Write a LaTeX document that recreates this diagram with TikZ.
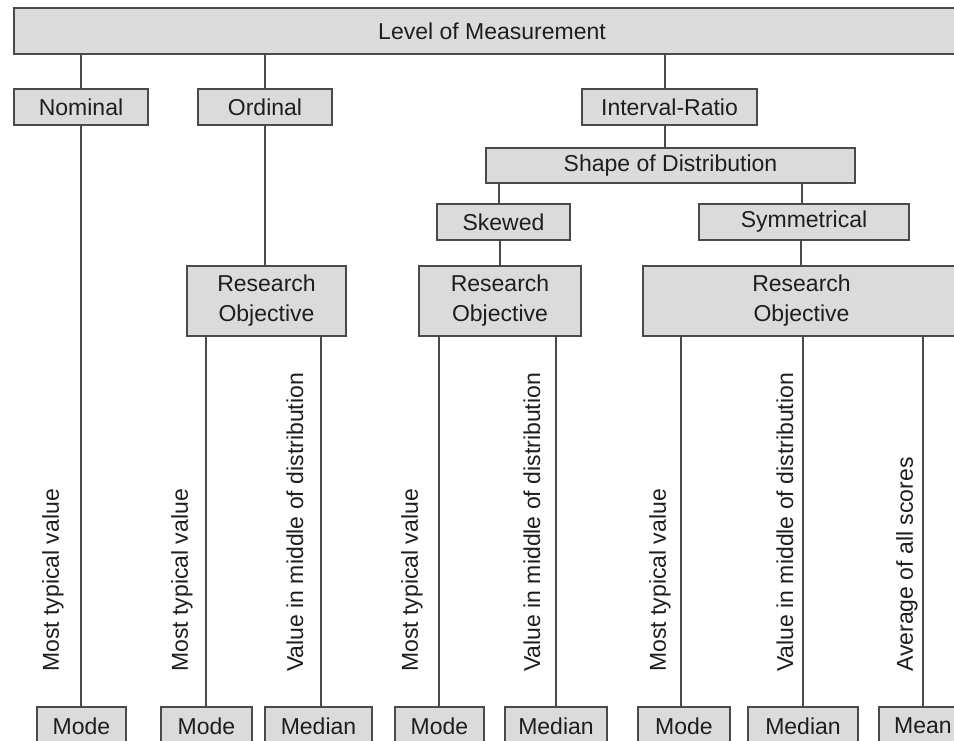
\documentclass[tikz,border=0pt]{standalone}
\usepackage{fontspec}
\setmainfont{Liberation Sans}
\definecolor{boxfill}{HTML}{DCDBDC}
\definecolor{edge}{HTML}{4A4A4A}
\definecolor{ink}{HTML}{1E1E1E}
\begin{document}
\begin{tikzpicture}[x=1pt,y=-1pt,
  box/.style={draw=edge,fill=boxfill,line width=1.6pt,inner sep=0pt,text=ink,
    font=\fontsize{23}{30}\selectfont,align=center},
  conn/.style={draw=edge,line width=1.6pt},
  vlabel/.style={rotate=90,anchor=west,inner sep=0pt,text=ink,
    font=\fontsize{23}{30}\selectfont}]
\useasboundingbox[fill=white] (0,0) rectangle (954,741);
% level 0
\node[box,minimum width=956,minimum height=46] (top) at (492,31) {Level of Measurement};
% level 1
\node[box,minimum width=134,minimum height=36] (nominal) at (81,107) {Nominal};
\node[box,minimum width=134,minimum height=36] (ordinal) at (265,107) {Ordinal};
\node[box,minimum width=175,minimum height=36] (ir) at (669.5,107) {Interval-Ratio};
% shape
\node[box,minimum width=369,minimum height=35] (shape) at (670.5,165.5) {Shape of Distribution};
\node[box,minimum width=133,minimum height=36] (skewed) at (503.5,222) {Skewed};
\node[box,minimum width=210,minimum height=36] (sym) at (804,222) {Symmetrical};
% research objectives
\node[box,minimum width=159,minimum height=70] (ro1) at (266.5,301) {Research\\Objective};
\node[box,minimum width=162,minimum height=70] (ro2) at (500,301) {Research\\Objective};
\node[box,minimum width=317,minimum height=70] (ro3) at (801.5,301) {Research\\Objective};
% bottom
\node[box,minimum width=89,minimum height=38] (m1) at (81.5,726) {Mode};
\node[box,minimum width=91,minimum height=38] (m2) at (206.5,726) {Mode};
\node[box,minimum width=107,minimum height=38] (md1) at (318.5,726) {Median};
\node[box,minimum width=89,minimum height=38] (m3) at (439.5,726) {Mode};
\node[box,minimum width=102,minimum height=38] (md2) at (556,726) {Median};
\node[box,minimum width=92,minimum height=38] (m4) at (684,726) {Mode};
\node[box,minimum width=110,minimum height=38] (md3) at (803,726) {Median};
\node[box,minimum width=88,minimum height=38] (mean) at (923,726) {Mean};
% connectors
\draw[conn] (nominal.north |- top.south) -- (nominal.north);
\draw[conn] (ordinal.north |- top.south) -- (ordinal.north);
\draw[conn] ([xshift=-4.5]ir.north |- top.south) -- ([xshift=-4.5]ir.north);
\draw[conn] ([xshift=-4.5]ir.south) -- ([xshift=-4.5]ir.south |- shape.north);
\draw[conn] ([xshift=-4.5]skewed.north |- shape.south) -- ([xshift=-4.5]skewed.north);
\draw[conn] ([xshift=-2]sym.north |- shape.south) -- ([xshift=-2]sym.north);
\draw[conn] (ordinal.south) -- (ordinal.south |- ro1.north);
\draw[conn] (ro2.north |- skewed.south) -- (ro2.north);
\draw[conn] ([xshift=-0.5]ro3.north |- sym.south) -- ([xshift=-0.5]ro3.north);
\draw[conn] (nominal.south) -- (nominal.south |- m1.north);
\draw[conn] ([xshift=-0.5]m2.north |- ro1.south) -- ([xshift=-0.5]m2.north);
\draw[conn] ([xshift=2.5]md1.north |- ro1.south) -- ([xshift=2.5]md1.north);
\draw[conn] ([xshift=-0.5]m3.north |- ro2.south) -- ([xshift=-0.5]m3.north);
\draw[conn] (md2.north |- ro2.south) -- (md2.north);
\draw[conn] ([xshift=-3]m4.north |- ro3.south) -- ([xshift=-3]m4.north);
\draw[conn] (md3.north |- ro3.south) -- (md3.north);
\draw[conn] (mean.north |- ro3.south) -- (mean.north);
% vertical labels
\node[vlabel] (t1) at (53,672) {Most typical value};
\node[vlabel] (t2) at (182,672) {Most typical value};
\node[vlabel] (t3) at (295,672) {Value in middle of distribution};
\node[vlabel] (t4) at (412,672) {Most typical value};
\node[vlabel] (t5) at (532,672) {Value in middle of distribution};
\node[vlabel] (t6) at (660,672) {Most typical value};
\node[vlabel] (t7) at (785,672) {Value in middle of distribution};
\node[vlabel] (t8) at (907,672) {Average of all scores};
\end{tikzpicture}
\end{document}
